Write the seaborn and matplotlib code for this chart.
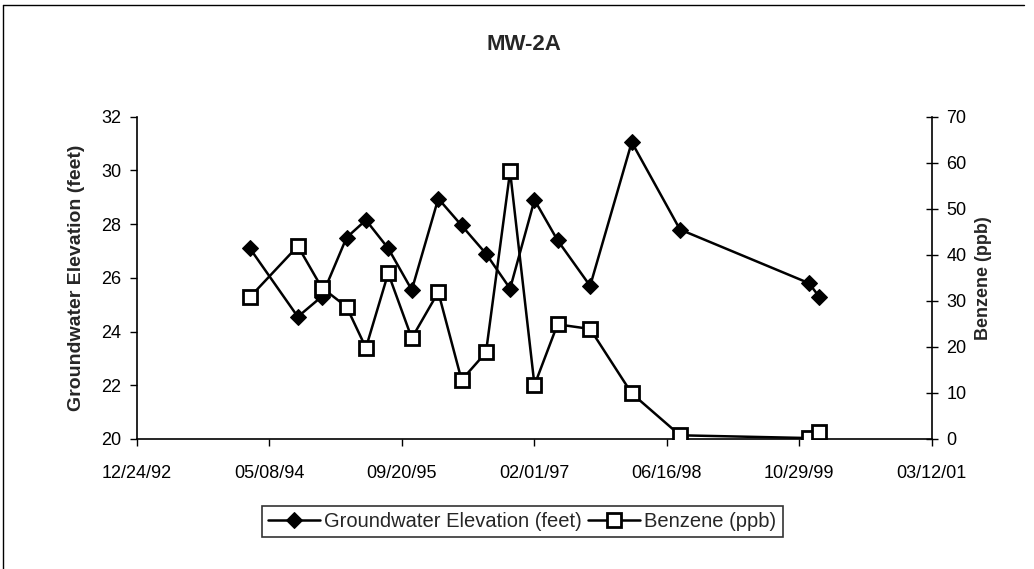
import pandas as pd
import matplotlib
matplotlib.use("Agg")
import matplotlib.pyplot as plt
import matplotlib.dates as mdates
from matplotlib.lines import Line2D
import seaborn as sns

# Sampling dates
dates = ["1994-02-24", "1994-08-24", "1994-11-22", "1995-02-24", "1995-05-08",
         "1995-07-31", "1995-10-28", "1996-02-05", "1996-05-03", "1996-08-03",
         "1996-11-02", "1997-02-02", "1997-04-30", "1997-08-31", "1998-02-04",
         "1998-08-05", "1999-12-05", "2000-01-12"]

# Groundwater elevation (feet), left axis
gw_elev = [27.1, 24.55, 25.3, 27.5, 28.15, 27.1, 25.55, 28.95, 27.95, 26.9,
           25.6, 28.9, 27.4, 25.7, 31.05, 27.8, 25.8, 25.3]

# Benzene (ppb), right axis
benzene = [30.8, 41.9, 32.9, 28.7, 19.8, 36.0, 21.9, 31.9, 12.8, 18.8,
           58.1, 11.7, 24.9, 23.9, 9.9, 0.8, 0.2, 1.6]

x_start = pd.Timestamp("1992-12-24")
x_end = pd.Timestamp("2001-03-12")
x_ticks = pd.date_range(x_start, x_end, freq="500D")

sns.set_style("white")
plt.rcParams['font.family'] = ['Liberation Sans', 'DejaVu Sans']

df = pd.DataFrame({"date": pd.to_datetime(dates), "gw": gw_elev, "benz": benzene})

fig = plt.figure(figsize=(10.34, 5.69), dpi=100)
ax = fig.add_axes([0.1322, 0.2285, 0.7689, 0.5664])
ax2 = ax.twinx()

sns.lineplot(data=df, x="date", y="gw", ax=ax, color="black", linewidth=1.8,
             marker="D", markersize=8.5, markerfacecolor="black",
             markeredgecolor="black", label="Groundwater Elevation (feet)", legend=False)
sns.lineplot(data=df, x="date", y="benz", ax=ax2, color="black", linewidth=1.8,
             marker="s", markersize=9.5, markerfacecolor="white",
             markeredgecolor="black", markeredgewidth=2.0,
             label="Benzene (ppb)", legend=False)

ax.set_xlim(x_start, x_end)
ax.set_xticks(x_ticks)
ax.xaxis.set_major_formatter(mdates.DateFormatter("%m/%d/%y"))
ax.set_ylim(20, 32)
ax.set_yticks(range(20, 33, 2))
ax2.set_ylim(0, 70)
ax2.set_yticks(range(0, 71, 10))

ax.set_xlabel("")
ax.set_ylabel("Groundwater Elevation (feet)", fontsize=14, fontweight="bold", labelpad=12)
ax2.set_ylabel("Benzene (ppb)", fontsize=13, fontweight="bold", labelpad=6)

for a in (ax, ax2):
    for s in a.spines.values():
        s.set_visible(False)
ax.spines["left"].set_visible(True)
ax.spines["bottom"].set_visible(True)
ax2.spines["right"].set_visible(True)
for s in ("left", "bottom"):
    ax.spines[s].set_color("black")
    ax.spines[s].set_linewidth(1.2)
ax2.spines["right"].set_color("black")
ax2.spines["right"].set_linewidth(1.2)

ax.tick_params(axis="both", direction="out", length=5, width=1, color="black",
               labelsize=13, labelcolor="black", left=True, bottom=True)
ax.tick_params(axis="x", pad=14)
ax.tick_params(axis="y", pad=6)
ax2.tick_params(axis="y", direction="inout", length=9, width=1, color="black",
                labelsize=13, labelcolor="black", right=True, pad=6)

fig.suptitle("MW-2A", x=0.507, y=0.94, fontsize=16, fontweight="bold")

h1, l1 = ax.get_legend_handles_labels()
h2, l2 = ax2.get_legend_handles_labels()
leg = fig.legend(h1 + h2, l1 + l2, loc="center", bbox_to_anchor=(0.505, 0.083),
                 ncol=2, frameon=True, fancybox=False, fontsize=14.5,
                 handlelength=2.6, handletextpad=0.2, columnspacing=0.3,
                 borderpad=0.3, borderaxespad=0)
leg.get_frame().set_edgecolor("black")
leg.get_frame().set_linewidth(1.2)

# scanned page border (left and top edges)
fig.add_artist(Line2D([0.003, 0.003], [0.0, 0.991], transform=fig.transFigure,
                      color="black", linewidth=1.0))
fig.add_artist(Line2D([0.003, 0.99], [0.991, 0.991], transform=fig.transFigure,
                      color="black", linewidth=1.0))

fig.savefig("out.png", dpi=100)
